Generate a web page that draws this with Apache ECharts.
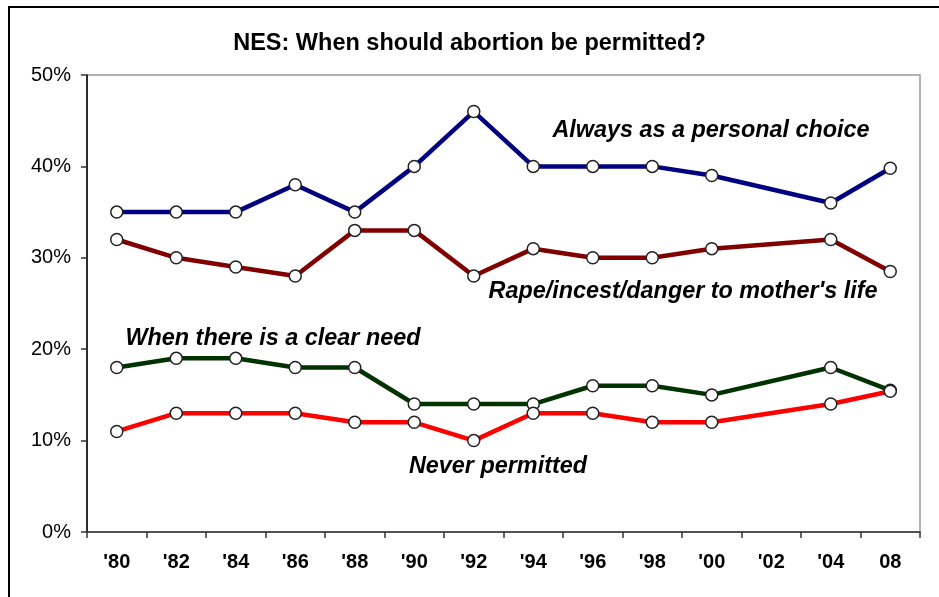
<!DOCTYPE html>
<html>
<head>
<meta charset="utf-8">
<script src="https://cdn.jsdelivr.net/npm/echarts@6/dist/echarts.min.js"></script>
<style>html,body{margin:0;padding:0;background:#fff}#c{width:939px;height:597px}</style>
</head>
<body>
<div id="c"></div>
<script>
var categories = ["'80", "'82", "'84", "'86", "'88", "'90", "'92", "'94", "'96", "'98", "'00", "'02", "'04", "08"];
var alwaysChoice = [35, 35, 35, 38, 35, 40, 46, 40, 40, 40, 39, null, 36, 39.8];
var rapeIncest   = [32, 30, 29, 28, 33, 33, 28, 31, 30, 30, 31, null, 32, 28.5];
var clearNeed    = [18, 19, 19, 18, 18, 14, 14, 14, 16, 16, 15, null, 18, 15.5];
var neverPerm    = [11, 13, 13, 13, 12, 12, 10, 13, 13, 12, 12, null, 14, 15.4];
var yTicks = [0, 10, 20, 30, 40, 50];

var FONT = 'Liberation Sans, Arial, sans-serif';
function mk(name, data, color) {
  return {
    name: name, type: 'line', data: data, connectNulls: true,
    lineStyle: { color: color, width: 4.5 },
    itemStyle: { color: '#fff', borderColor: '#222', borderWidth: 1.5 },
    symbol: 'circle', symbolSize: 12, showAllSymbol: true,
    emphasis: { disabled: true }
  };
}
var chart = echarts.init(document.getElementById('c'));
chart.setOption({
  animation: false,
  backgroundColor: '#fff',
  title: {
    text: 'NES: When should abortion be permitted?',
    left: 'center', top: 27,
    textStyle: { fontFamily: FONT, fontSize: 23.5, fontWeight: 'bold', color: '#000' }
  },
  grid: { left: 87, right: 19, top: 75, bottom: 65, show: true, borderColor: '#999', borderWidth: 1.5 },
  xAxis: {
    type: 'category', data: categories, boundaryGap: true,
    axisLine: { lineStyle: { color: '#333', width: 1.5 } },
    axisTick: { show: true, length: 6, lineStyle: { color: '#333', width: 1.5 } },
    axisLabel: { margin: 20, fontFamily: FONT, fontSize: 20, fontWeight: 'bold', color: '#000' },
    splitLine: { show: false }
  },
  yAxis: {
    type: 'value', min: yTicks[0], max: yTicks[yTicks.length - 1], interval: 10,
    axisLine: { show: true, lineStyle: { color: '#000', width: 1.5 } },
    axisTick: { show: true, length: 6, lineStyle: { color: '#333', width: 1.5 } },
    axisLabel: { margin: 16, fontFamily: FONT, fontSize: 20, color: '#000', formatter: '{value}%' },
    splitLine: { show: false }
  },
  series: [
    mk('Always as a personal choice', alwaysChoice, '#000080'),
    mk("Rape/incest/danger to mother's life", rapeIncest, '#800000'),
    mk('When there is a clear need', clearNeed, '#003300'),
    mk('Never permitted', neverPerm, '#FF0000')
  ],
  graphic: [
    { type: 'rect', shape: { x: 9, y: 7, width: 1200, height: 1200 }, style: { fill: 'none', stroke: '#000', lineWidth: 2 }, silent: true },
    { type: 'text', x: 711, y: 131, style: { text: 'Always as a personal choice', font: 'italic bold 23.4px ' + FONT, fill: '#000', align: 'center', verticalAlign: 'middle' } },
    { type: 'text', x: 683, y: 292, style: { text: "Rape/incest/danger to mother's life", font: 'italic bold 23.4px ' + FONT, fill: '#000', align: 'center', verticalAlign: 'middle' } },
    { type: 'text', x: 273, y: 339, style: { text: 'When there is a clear need', font: 'italic bold 23.4px ' + FONT, fill: '#000', align: 'center', verticalAlign: 'middle' } },
    { type: 'text', x: 498, y: 467, style: { text: 'Never permitted', font: 'italic bold 23.4px ' + FONT, fill: '#000', align: 'center', verticalAlign: 'middle' } }
  ]
});
</script>
</body>
</html>
